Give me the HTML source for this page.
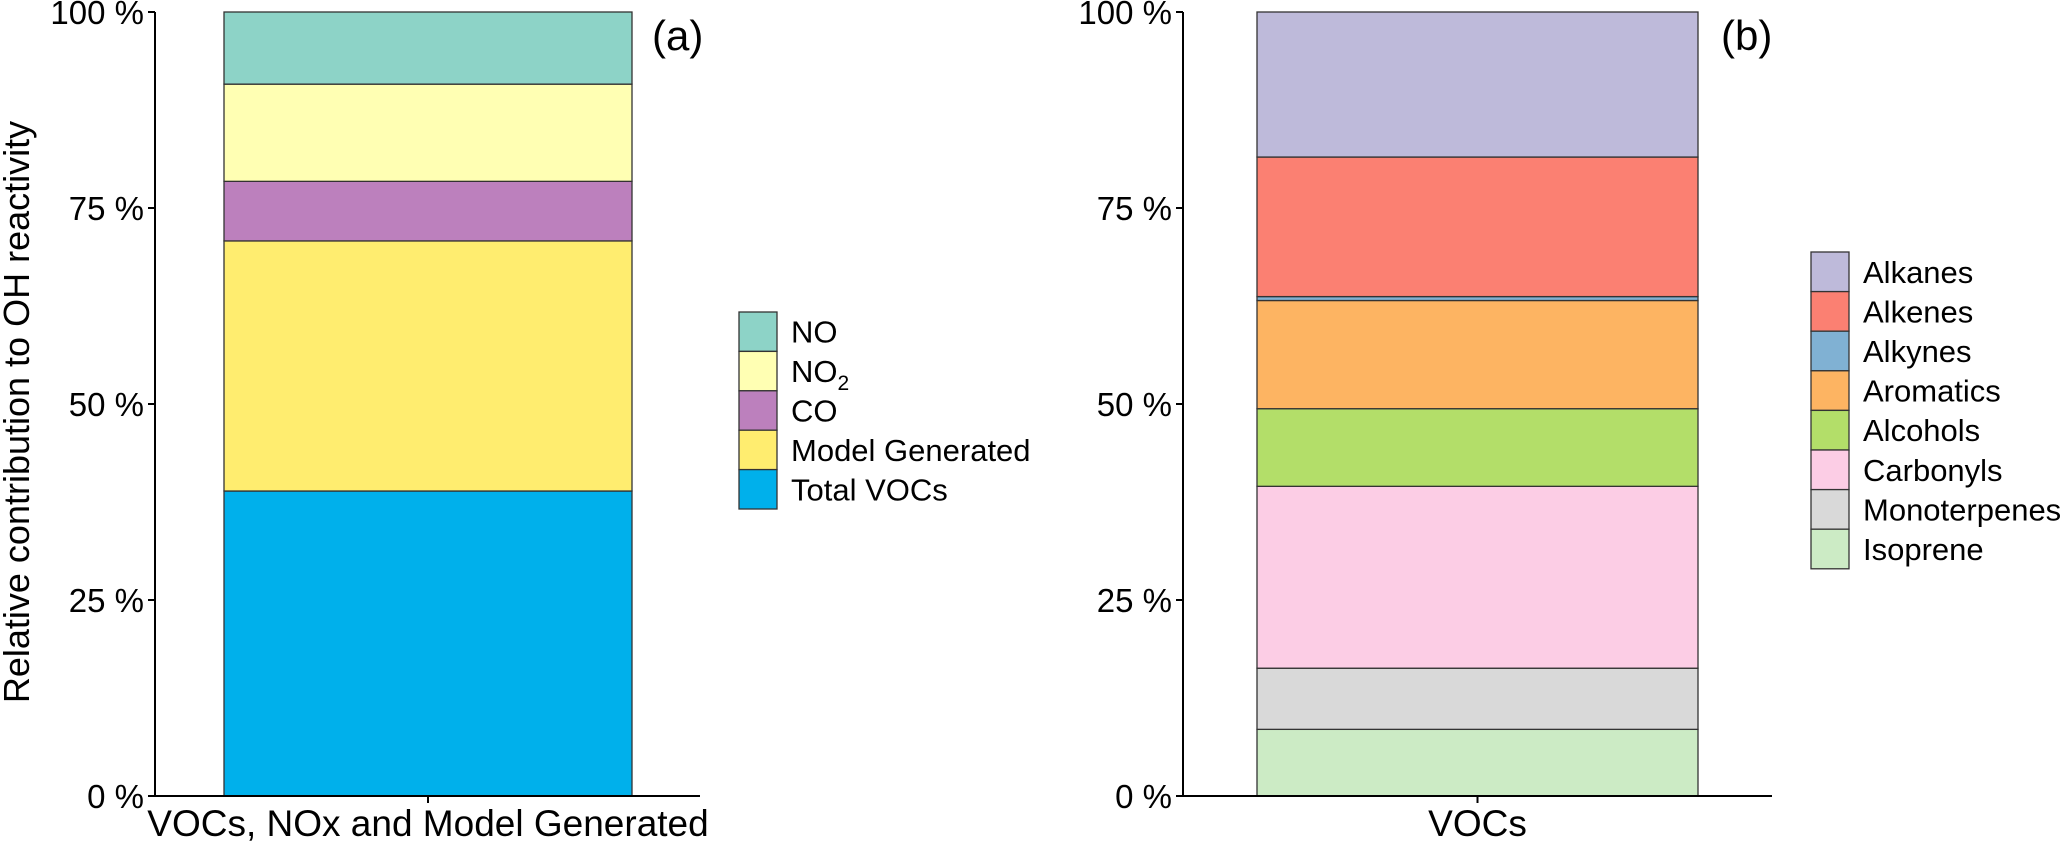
<!DOCTYPE html>
<html><head><meta charset="utf-8"><style>
body{margin:0;background:#fff;}
svg text{font-family:"Liberation Sans",sans-serif;fill:#000;}
</style></head><body>
<svg id="c" width="2066" height="841" xmlns="http://www.w3.org/2000/svg"></svg>
<script>
const ticks=[0,25,50,75,100];
const catsA=["Total VOCs","Model Generated","CO","NO2","NO"];
const valsA=[38.9,31.9,7.6,12.4,9.2];
const colsA=["#00b0eb","#ffed6f","#bc80bd","#ffffb3","#8dd3c7"];
const catsB=["Isoprene","Monoterpenes","Carbonyls","Alcohols","Aromatics","Alkynes","Alkenes","Alkanes"];
const valsB=[8.5,7.8,23.2,9.9,13.8,0.5,17.8,18.5];
const colsB=["#ccebc5","#d9d9d9","#fccde5","#b3de69","#fdb462","#80b1d3","#fb8072","#bebada"];
const svg=document.getElementById('c');
const NS="http://www.w3.org/2000/svg";
const y0=796,y1=12;
function ys(v){return y0-(v/100)*(y0-y1);}
function mk(t,a,p){const e=document.createElementNS(NS,t);for(const k in a)e.setAttribute(k,a[k]);(p||svg).appendChild(e);return e;}
function panel(o){
 const g=mk('g',{});
 
 
 let acc=0;
 o.vals.forEach((v,i)=>{
  const r=mk('rect',{x:o.bx0,y:ys(acc+v),width:o.bx1-o.bx0,height:ys(acc)-ys(acc+v),fill:o.cols[i],stroke:'#333','stroke-width':1.3},g);
  
  
  acc+=v;
 });
 mk('line',{x1:o.ax,y1:y1,x2:o.ax,y2:y0+1,stroke:'#000','stroke-width':2},g);
 mk('line',{x1:o.ax,y1:y0,x2:o.axEnd,y2:y0,stroke:'#000','stroke-width':2},g);
 ticks.forEach(t=>{
  mk('line',{x1:o.ax-7,y1:ys(t),x2:o.ax,y2:ys(t),stroke:'#000','stroke-width':2},g);
  const tx=mk('text',{x:o.ax-11,y:ys(t)+12,'font-size':33,'text-anchor':'end'},g);
  tx.textContent=t+' %';
  
  
 });
 const tc=(o.bx0+o.bx1)/2;
 mk('line',{x1:tc,y1:y0,x2:tc,y2:y0+7,stroke:'#000','stroke-width':2},g);
 const xl=mk('text',{x:tc,y:836,'font-size':37,'text-anchor':'middle'},g);
 xl.textContent=o.xlabel;
 
 
 const pl=mk('text',{x:o.plx,y:50,'font-size':42},g);
 pl.textContent=o.panel;
 
 
 const n=o.cats.length;
 for(let j=0;j<n;j++){
  const i=n-1-j;
  const yy=o.ly+j*o.lh;
  const lg=mk('g',{},g);
  
  
  mk('rect',{x:o.lx,y:yy,width:38,height:o.lh,fill:o.cols[i],stroke:'#333','stroke-width':1.3},lg);
  const t=mk('text',{x:o.lx+52,y:yy+o.lh/2+11,'font-size':31},lg);
  if(o.cats[i]==="NO2"){t.innerHTML='NO<tspan font-size="21" dy="8">2</tspan>';}
  else t.textContent=o.cats[i];
 }
}
panel({name:'panel-a',cats:catsA,vals:valsA,cols:colsA,ax:155,axEnd:700,bx0:224,bx1:632,xlabel:'VOCs, NOx and Model Generated',panel:'(a)',plx:652,lx:739,ly:312,lh:39.4});
panel({name:'panel-b',cats:catsB,vals:valsB,cols:colsB,ax:1183,axEnd:1772,bx0:1257,bx1:1698,xlabel:'VOCs',panel:'(b)',plx:1721,lx:1811,ly:252,lh:39.6});
const yt=mk('text',{x:0,y:0,'font-size':36,'text-anchor':'middle',transform:'translate(29,412) rotate(-90)'});
yt.textContent='Relative contribution to OH reactivity';


</script>
</body></html>
